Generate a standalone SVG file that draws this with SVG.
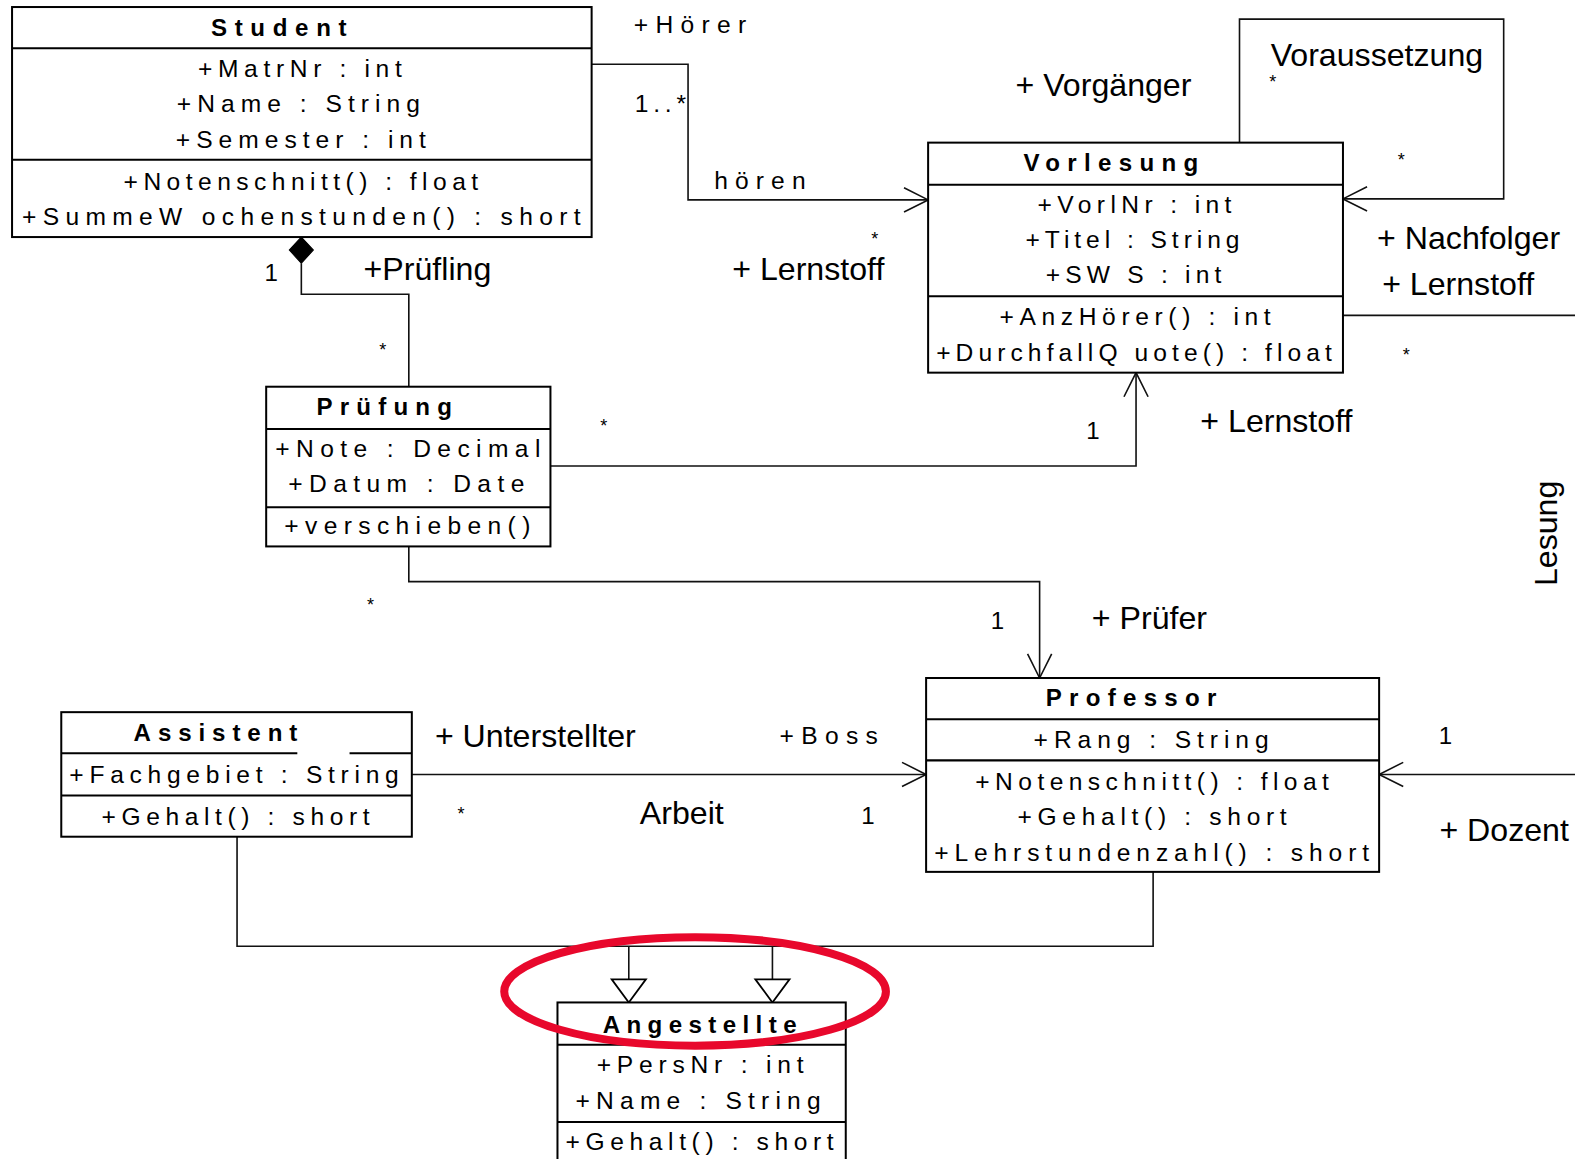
<svg xmlns="http://www.w3.org/2000/svg" width="1575" height="1159" viewBox="0 0 1575 1159">
<style>
.box{fill:#fff;stroke:#000;stroke-width:2}
.div{stroke:#000;stroke-width:2;fill:none}
.t{font-family:"Liberation Sans",Arial,sans-serif;font-size:24.5px;fill:#000}
.h{font-family:"Liberation Sans",Arial,sans-serif;font-size:24px;font-weight:bold;fill:#000}
.lbl{font-family:"Liberation Sans",Arial,sans-serif;font-size:32px;fill:#000}
.num{font-family:"Liberation Sans",Arial,sans-serif;font-size:24px;fill:#000;text-anchor:middle}
.star{font-family:"Liberation Sans",Arial,sans-serif;font-size:18px;fill:#000;text-anchor:middle}
.c{stroke:#111;stroke-width:1.6;fill:none}
.tri{stroke:#000;stroke-width:1.8;fill:#fff}
</style>
<rect width="1575" height="1159" fill="#fff"/>
<g transform="scale(1.00446)">
<g id="connectors">
<polyline class="c" points="589,64 685,64 685,199 924,199"/>
<polyline class="c" points="900,187 924,199 900,211"/>
<polyline class="c" points="1234,142 1234,19 1497,19 1497,198 1337,198"/>
<polyline class="c" points="1361,186 1337,198 1361,210"/>
<line class="c" x1="1337" y1="314" x2="1575" y2="314"/>
<line class="c" x1="1373" y1="771" x2="1575" y2="771"/>
<polyline class="c" points="1397,759 1373,771 1397,783"/>
<polygon points="300,236 312,249 300,262 288,249" fill="#000" stroke="#000" stroke-width="1"/>
<polyline class="c" points="300,262 300,293 407,293 407,385"/>
<polyline class="c" points="548,464 1131,464 1131,371"/>
<polyline class="c" points="1119,395 1131,371 1143,395"/>
<polyline class="c" points="407,544 407,579 1035,579 1035,675"/>
<polyline class="c" points="1023,651 1035,675 1047,651"/>
<line class="c" x1="410" y1="771" x2="922" y2="771"/>
<polyline class="c" points="898,759 922,771 898,783"/>
<polyline class="c" points="236,833 236,942 1148,942 1148,868"/>
<line class="c" x1="626" y1="942" x2="626" y2="975"/>
<line class="c" x1="769" y1="942" x2="769" y2="975"/>
<polygon class="tri" points="609,975 643,975 626,998"/>
<polygon class="tri" points="752,975 786,975 769,998"/>
</g>
<g id="labels">
<text class="t" x="631" y="33" textLength="112" lengthAdjust="spacing">+Hörer</text>
<text class="t" x="632" y="112" textLength="51" lengthAdjust="spacing">1..*</text>
<text class="t" x="711" y="188" textLength="91" lengthAdjust="spacing">hören</text>
<text class="star" x="871" y="244">*</text>
<text class="lbl" x="729" y="279">+ Lernstoff</text>
<text class="lbl" x="1265" y="66">Voraussetzung</text>
<text class="star" x="1267" y="88">*</text>
<text class="star" x="1395" y="165">*</text>
<text class="lbl" x="1011" y="96">+ Vorgänger</text>
<text class="lbl" x="1371" y="248">+ Nachfolger</text>
<text class="lbl" x="1376" y="294">+ Lernstoff</text>
<text class="star" x="1400" y="359">*</text>
<text class="lbl" text-anchor="middle" transform="translate(1550,531) rotate(-90)">Lesung</text>
<text class="lbl" x="362" y="279">+Prüfling</text>
<text class="num" x="270" y="280">1</text>
<text class="star" x="381" y="354">*</text>
<text class="star" x="601" y="430">*</text>
<text class="num" x="1088" y="437">1</text>
<text class="lbl" x="1195" y="430">+ Lernstoff</text>
<text class="star" x="369" y="608">*</text>
<text class="num" x="993" y="626">1</text>
<text class="lbl" x="1087" y="626">+ Prüfer</text>
<text class="lbl" x="433" y="744">+ Unterstellter</text>
<text class="t" x="776" y="741" textLength="98" lengthAdjust="spacing">+Boss</text>
<text class="star" x="459" y="816">*</text>
<text class="lbl" x="637" y="820">Arbeit</text>
<text class="num" x="864" y="820">1</text>
<text class="num" x="1439" y="741">1</text>
<text class="lbl" x="1433" y="837">+ Dozent</text>
</g>
<g id="Student">
<rect class="box" x="12" y="7" width="577" height="229"/>
<line class="div" x1="12" y1="48" x2="589" y2="48"/>
<line class="div" x1="12" y1="159" x2="589" y2="159"/>
<text class="h" x="210" y="36" textLength="135" lengthAdjust="spacing">Student</text>
<text class="t" x="197" y="77" textLength="203" lengthAdjust="spacing">+MatrNr : int</text>
<text class="t" x="176" y="112" textLength="242" lengthAdjust="spacing">+Name : String</text>
<text class="t" x="175" y="147" textLength="249" lengthAdjust="spacing">+Semester : int</text>
<text class="t" x="123" y="189" textLength="353" lengthAdjust="spacing">+Notenschnitt() : float</text>
<text class="t" x="22" y="224" textLength="556" lengthAdjust="spacing">+SummeW ochenstunden() : short</text>
</g>
<g id="Vorlesung">
<rect class="box" x="924" y="142" width="413" height="229"/>
<line class="div" x1="924" y1="184" x2="1337" y2="184"/>
<line class="div" x1="924" y1="295" x2="1337" y2="295"/>
<text class="h" x="1019" y="170" textLength="174" lengthAdjust="spacing">Vorlesung</text>
<text class="t" x="1033" y="212" textLength="193" lengthAdjust="spacing">+VorlNr : int</text>
<text class="t" x="1021" y="247" textLength="213" lengthAdjust="spacing">+Titel : String</text>
<text class="t" x="1041" y="282" textLength="175" lengthAdjust="spacing">+SW S : int</text>
<text class="t" x="995" y="324" textLength="270" lengthAdjust="spacing">+AnzHörer() : int</text>
<text class="t" x="932" y="359" textLength="394" lengthAdjust="spacing">+DurchfallQ uote() : float</text>
</g>
<g id="Pruefung">
<rect class="box" x="265" y="385" width="283" height="159"/>
<line class="div" x1="265" y1="427" x2="548" y2="427"/>
<line class="div" x1="265" y1="505" x2="548" y2="505"/>
<text class="h" x="315" y="413" textLength="135" lengthAdjust="spacing">Prüfung</text>
<text class="t" x="274" y="455" textLength="264" lengthAdjust="spacing">+Note : Decimal</text>
<text class="t" x="287" y="490" textLength="235" lengthAdjust="spacing">+Datum : Date</text>
<text class="t" x="283" y="532" textLength="245" lengthAdjust="spacing">+verschieben()</text>
</g>
<g id="Professor">
<rect class="box" x="922" y="675" width="451" height="193"/>
<line class="div" x1="922" y1="716" x2="1373" y2="716"/>
<line class="div" x1="922" y1="757" x2="1373" y2="757"/>
<text class="h" x="1041" y="703" textLength="170" lengthAdjust="spacing">Professor</text>
<text class="t" x="1029" y="745" textLength="234" lengthAdjust="spacing">+Rang : String</text>
<text class="t" x="971" y="786" textLength="352" lengthAdjust="spacing">+Notenschnitt() : float</text>
<text class="t" x="1013" y="821" textLength="268" lengthAdjust="spacing">+Gehalt() : short</text>
<text class="t" x="930" y="857" textLength="433" lengthAdjust="spacing">+Lehrstundenzahl() : short</text>
</g>
<g id="Assistent">
<rect class="box" x="61" y="709" width="349" height="124"/>
<line class="div" x1="61" y1="750" x2="296" y2="750"/>
<line class="div" x1="348" y1="750" x2="410" y2="750"/>
<line class="div" x1="61" y1="792" x2="410" y2="792"/>
<text class="h" x="133" y="738" textLength="163" lengthAdjust="spacing">Assistent</text>
<text class="t" x="69" y="780" textLength="328" lengthAdjust="spacing">+Fachgebiet : String</text>
<text class="t" x="101" y="821" textLength="267" lengthAdjust="spacing">+Gehalt() : short</text>
</g>
<g id="Angestellte">
<rect class="box" x="555" y="998" width="287" height="175"/>
<line class="div" x1="555" y1="1040" x2="842" y2="1040"/>
<line class="div" x1="555" y1="1117" x2="842" y2="1117"/>
<text class="h" x="600" y="1028" textLength="193" lengthAdjust="spacing">Angestellte</text>
<text class="t" x="594" y="1068" textLength="206" lengthAdjust="spacing">+PersNr : int</text>
<text class="t" x="573" y="1104" textLength="244" lengthAdjust="spacing">+Name : String</text>
<text class="t" x="563" y="1145" textLength="267" lengthAdjust="spacing">+Gehalt() : short</text>
</g>
<ellipse cx="692" cy="987" rx="190" ry="54" fill="none" stroke="#e8082c" stroke-width="8"/>
</g>
</svg>
